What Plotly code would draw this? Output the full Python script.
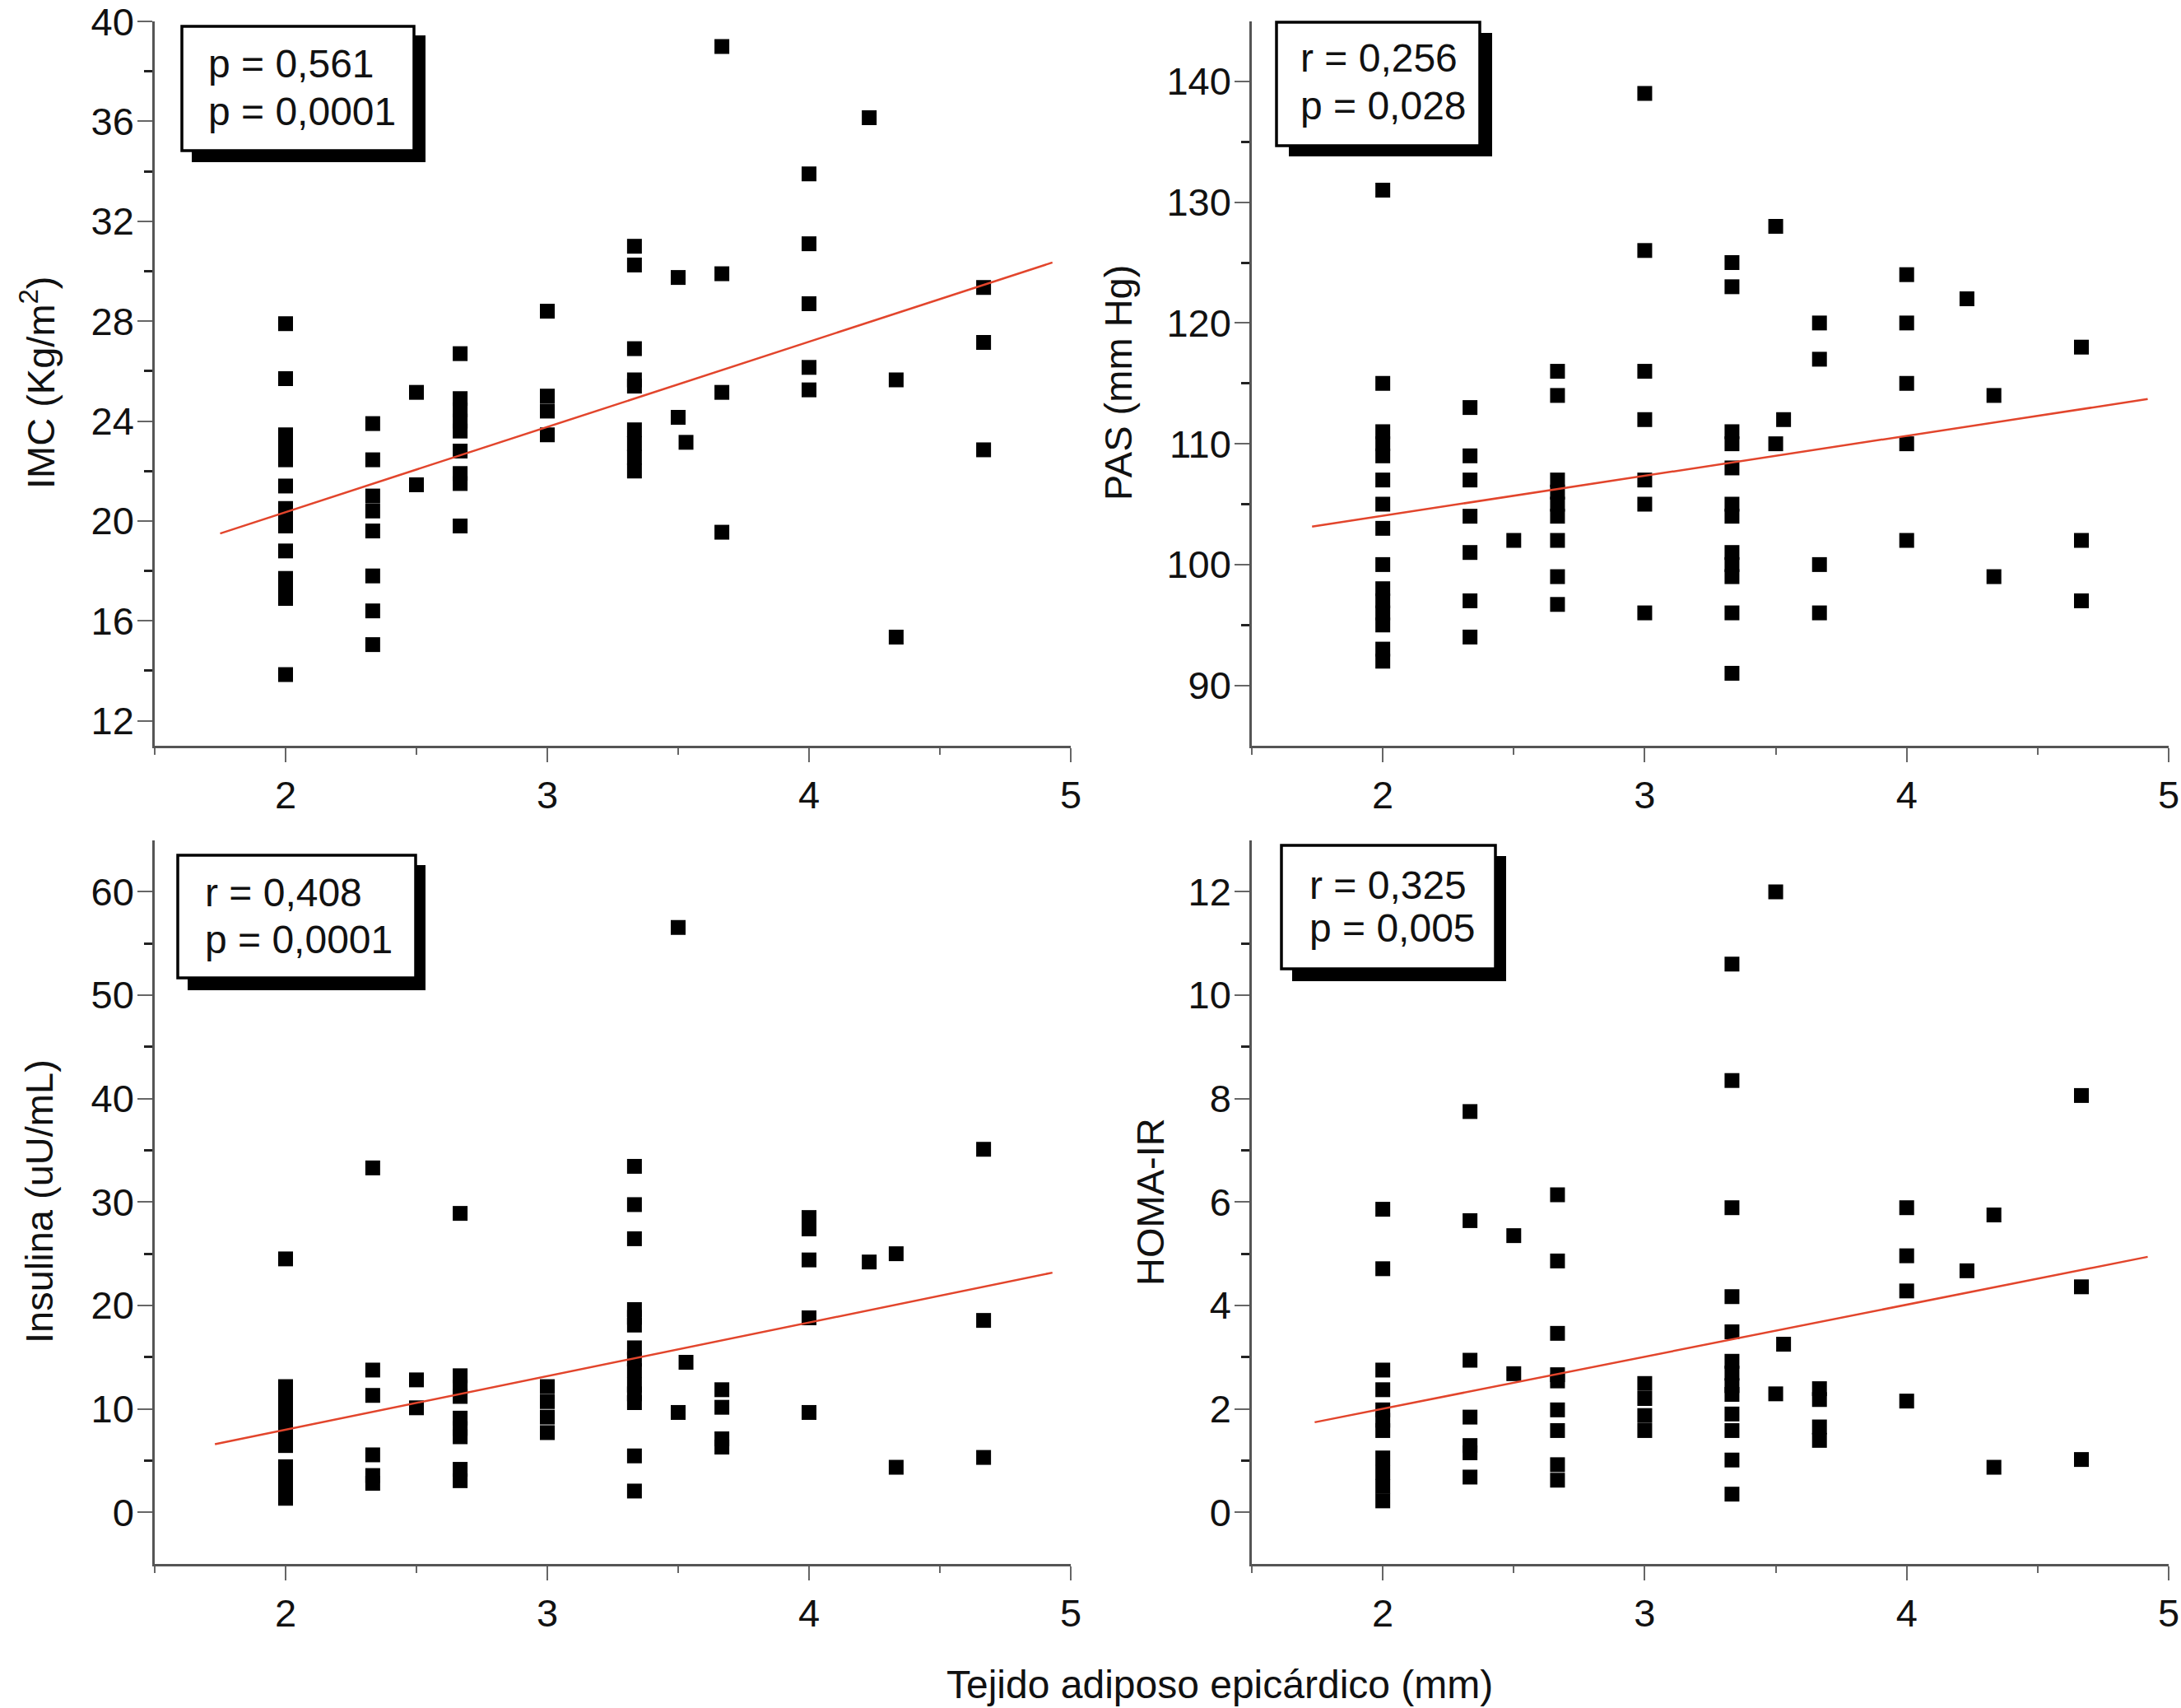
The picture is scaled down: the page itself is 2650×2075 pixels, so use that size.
import plotly.graph_objects as go
from plotly.subplots import make_subplots

# epicardial fat thickness (mm) vs four variables
imc_x = [2]*14 + [2.333]*8 + [2.5]*2 + [2.667]*9 + [3]*4 + [3.333]*9 + [3.5]*2 + [3.53] + [3.667]*4 + [4]*5 + [4.23] + [4.333]*2 + [4.667]*3
imc_y = [27.9, 25.7, 23.45, 22.9, 22.45, 21.4, 20.5, 20.1, 19.8, 18.8, 17.7, 17.3, 16.9, 13.85,
         23.9, 22.45, 21.0, 20.4, 19.6, 17.8, 16.4, 15.05,
         25.15, 21.45,
         26.7, 24.9, 24.45, 24.0, 23.6, 22.8, 21.9, 21.5, 19.8,
         28.4, 25.0, 24.4, 23.45,
         31.0, 30.25, 26.9, 25.65, 25.4, 23.65, 23.1, 22.55, 22.0,
         29.75, 24.15,
         23.15,
         39.0, 29.9, 25.15, 19.55,
         33.9, 31.1, 28.7, 26.15, 25.25,
         36.15,
         25.65, 15.35,
         29.35, 27.15, 22.85]

pas_x = [2]*15 + [2.333]*7 + [2.5] + [2.667]*9 + [3]*7 + [3.333]*12 + [3.5]*2 + [3.53] + [3.667]*4 + [4]*5 + [4.23] + [4.333]*2 + [4.667]*3
pas_y = [131, 115, 111, 110, 109, 107, 105, 103, 100, 98, 97, 96, 95, 93, 92,
         113, 109, 107, 104, 101, 97, 94,
         102,
         116, 114, 107, 106, 105, 104, 102, 99, 96.7,
         139, 126, 116, 112, 107, 105, 96,
         125, 123, 111, 110, 108, 105, 104, 101, 100, 99, 96, 91,
         128, 110,
         112,
         120, 117, 100, 96,
         124, 120, 115, 110, 102,
         122,
         114, 99,
         118, 102, 97]

ins_x = [2]*11 + [2.333]*6 + [2.5]*2 + [2.667]*9 + [3]*4 + [3.333]*14 + [3.5]*2 + [3.53] + [3.667]*4 + [4]*5 + [4.23] + [4.333]*2 + [4.667]*3
ins_y = [24.5, 12.15, 11.0, 9.9, 8.7, 7.6, 6.45, 4.4, 3.4, 2.4, 1.35,
         33.3, 13.75, 11.3, 5.55, 3.55, 2.8,
         12.8, 10.1,
         28.9, 13.2, 12.1, 11.2, 9.1, 8.1, 7.3, 4.15, 3.05,
         12.15, 10.7, 9.2, 7.7,
         33.45, 29.75, 26.45, 19.6, 18.85, 18.1, 15.9, 14.8, 13.7, 12.3, 11.45, 10.6, 5.45, 2.05,
         56.55, 9.65,
         14.5,
         11.85, 10.15, 7.1, 6.3,
         28.5, 27.4, 24.4, 18.8, 9.65,
         24.2,
         25.0, 4.35,
         35.1, 18.55, 5.3]

homa_x = [2]*11 + [2.333]*7 + [2.5]*2 + [2.667]*9 + [3]*4 + [3.333]*13 + [3.5]*2 + [3.53] + [3.667]*4 + [4]*4 + [4.23] + [4.333]*2 + [4.667]*3
homa_y = [5.86, 4.71, 2.75, 2.37, 1.98, 1.78, 1.58, 1.05, 0.77, 0.5, 0.22,
          7.75, 5.64, 2.94, 1.84, 1.29, 1.15, 0.68,
          5.35, 2.68,
          6.14, 4.86, 3.46, 2.66, 2.54, 1.98, 1.58, 0.92, 0.62,
          2.49, 2.2, 1.87, 1.58,
          10.6, 8.35, 5.89, 4.17, 3.49, 2.92, 2.69, 2.45, 2.28, 1.9, 1.58, 1.01, 0.35,
          12.0, 2.29,
          3.25,
          2.39, 2.18, 1.65, 1.39,
          5.89, 4.96, 4.28, 2.15,
          4.67,
          5.75, 0.87,
          8.06, 4.36, 1.02]

# regression lines (end points)
imc_fit_x = [1.75, 4.93]
imc_fit_y = [19.5, 30.35]
pas_fit_x = [1.73, 4.92]
pas_fit_y = [103.15, 113.7]
ins_fit_x = [1.73, 4.93]
ins_fit_y = [6.58, 23.17]
homa_fit_x = [1.74, 4.92]
homa_fit_y = [1.74, 4.94]

# statistics boxes
imc_stats = ['p = 0,561', 'p = 0,0001']
pas_stats = ['r = 0,256', 'p = 0,028']
ins_stats = ['r = 0,408', 'p = 0,0001']
homa_stats = ['r = 0,325', 'p = 0,005']

# axis titles / ticks
y_titles = ['IMC (Kg/m<sup>2</sup>)', 'PAS (mm Hg)', 'Insulina (uU/mL)', 'HOMA-IR']
x_title = 'Tejido adiposo epicárdico (mm)'
x_major = [2, 3, 4, 5]
x_minor = [1.5, 2.5, 3.5, 4.5]
imc_major = [12, 16, 20, 24, 28, 32, 36, 40]
imc_minor = [14, 18, 22, 26, 30, 34, 38]
pas_major = [90, 100, 110, 120, 130, 140]
pas_minor = [95, 105, 115, 125, 135]
ins_major = [0, 10, 20, 30, 40, 50, 60]
ins_minor = [5, 15, 25, 35, 45, 55]
homa_major = [0, 2, 4, 6, 8, 10, 12]
homa_minor = [1, 3, 5, 7, 9, 11]

W, H = 2650, 2075
FONT = 'Liberation Sans, Arial, Helvetica, sans-serif'


def px(x):
    return x / W


def py(y):
    return 1 - y / H


fig = make_subplots(rows=2, cols=2)

panels = [(imc_x, imc_y, imc_fit_x, imc_fit_y, 1, 1),
          (pas_x, pas_y, pas_fit_x, pas_fit_y, 1, 2),
          (ins_x, ins_y, ins_fit_x, ins_fit_y, 2, 1),
          (homa_x, homa_y, homa_fit_x, homa_fit_y, 2, 2)]

for xs, ys, fx, fy, r, c in panels:
    fig.add_trace(go.Scatter(x=xs, y=ys, mode='markers',
                             marker=dict(symbol='square', size=18, color='black', line=dict(width=0)),
                             showlegend=False), row=r, col=c)
    fig.add_trace(go.Scatter(x=fx, y=fy, mode='lines',
                             line=dict(color='#e2452c', width=2.5),
                             showlegend=False), row=r, col=c)

# plot areas in pixels (left, top, right, bottom)
areas = {(1, 1): (188, 25.5, 1301, 906),
         (1, 2): (1521, 25.5, 2635, 906),
         (2, 1): (188, 1020.6, 1301, 1900),
         (2, 2): (1521, 1020.6, 2635, 1900)}

y_specs = {(1, 1): ([11, 40.02], imc_major, imc_minor),
           (1, 2): ([85, 145], pas_major, pas_minor),
           (2, 1): ([-5, 65], ins_major, ins_minor),
           (2, 2): ([-1, 13], homa_major, homa_minor)}

for (r, c), (l, t, rr, b) in areas.items():
    rng, major, minor = y_specs[(r, c)]
    fig.update_xaxes(domain=[px(l), px(rr)], range=[1.5, 5], tickvals=x_major,
                     ticks='outside', ticklen=17, tickwidth=2, tickcolor='#666',
                     showline=True, linecolor='#555', linewidth=2.5,
                     showgrid=False, zeroline=False, automargin=False,
                     ticklabelstandoff=0, ticklabeloverflow='allow',
                     tickfont=dict(family=FONT, size=47, color='#111'),
                     minor=dict(tickvals=x_minor, ticks='outside', ticklen=8,
                                tickwidth=2, tickcolor='#666', showgrid=False),
                     row=r, col=c)
    fig.update_yaxes(domain=[py(b), py(t)], range=rng, tickvals=major,
                     ticks='outside', ticklen=18, tickwidth=2, tickcolor='#666',
                     showline=True, linecolor='#555', linewidth=2.5,
                     showgrid=False, zeroline=False, automargin=False,
                     ticklabelstandoff=-5, ticklabeloverflow='allow',
                     tickfont=dict(family=FONT, size=47, color='#111'),
                     minor=dict(tickvals=minor, ticks='outside', ticklen=10,
                                tickwidth=3, tickcolor='#222', showgrid=False),
                     row=r, col=c)

# stats boxes: (box x0, y0, x1, y1), shadow (x0, y0, x1, y1), text x, line y's
boxes = [((221, 32, 503, 183), (233, 43, 517, 197), 251, (78, 135), imc_stats),
         ((1551, 27, 1798, 177), (1566, 40, 1813, 190), 1578, (70, 128), pas_stats),
         ((216, 1039, 505, 1188), (228, 1051, 517, 1203), 247, (1084, 1141), ins_stats),
         ((1557, 1027, 1817, 1177), (1570, 1040, 1830, 1192), 1589, (1075, 1127), homa_stats)]

for box, shadow, tx, tys, lines in boxes:
    fig.add_shape(type='rect', xref='paper', yref='paper',
                  x0=px(shadow[0]), x1=px(shadow[2]), y0=py(shadow[3]), y1=py(shadow[1]),
                  fillcolor='black', line=dict(width=0))
    fig.add_shape(type='rect', xref='paper', yref='paper',
                  x0=px(box[0]), x1=px(box[2]), y0=py(box[3]), y1=py(box[1]),
                  fillcolor='white', line=dict(color='black', width=3.5))
    for txt, ty in zip(lines, tys):
        fig.add_annotation(text=txt, xref='paper', yref='paper', x=px(tx), y=py(ty),
                           xanchor='left', yanchor='middle', showarrow=False,
                           font=dict(family=FONT, size=48, color='#111'))

# y axis titles
title_pos = [(46, 465), (1358, 465), (47, 1460), (1397, 1460)]
for txt, (tx, ty) in zip(y_titles, title_pos):
    fig.add_annotation(text=txt, xref='paper', yref='paper', x=px(tx), y=py(ty),
                       xanchor='center', yanchor='middle', textangle=-90, showarrow=False,
                       font=dict(family=FONT, size=47, color='#111'))

fig.add_annotation(text=x_title, xref='paper', yref='paper', x=px(1482), y=py(2046),
                   xanchor='center', yanchor='middle', showarrow=False,
                   font=dict(family=FONT, size=48, color='#111'))

fig.update_layout(width=W, height=H, template='none',
                  margin=dict(l=0, r=0, t=0, b=0),
                  paper_bgcolor='white', plot_bgcolor='white',
                  font=dict(family=FONT, color='#111'))

# drop the default page margin so the figure sits at the window corner
fig.write_html('out.html', config={'displayModeBar': False},
               post_script="document.body.style.margin='0px';")
